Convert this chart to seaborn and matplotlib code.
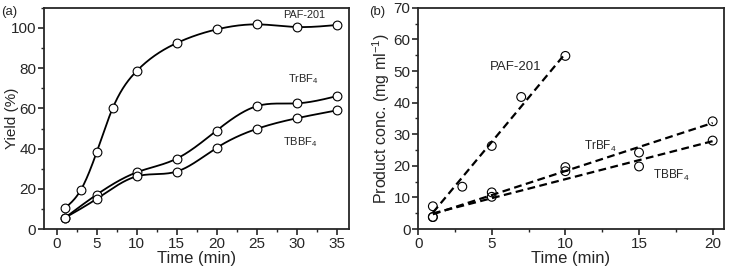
import numpy as np
import pandas as pd
import matplotlib
matplotlib.use('Agg')
import matplotlib.pyplot as plt
from matplotlib.ticker import MultipleLocator
import seaborn as sns

# --- data ---
# (a) yield vs time
t_paf_a = [1, 3, 5, 7, 10, 15, 20, 25, 30, 35]
y_paf_a = [10.3, 19.3, 38.2, 60.1, 78.6, 92.5, 99.3, 101.8, 100.5, 101.5]
t_tr_a = [1, 5, 10, 15, 20, 25, 30, 35]
y_tr_a = [5.5, 17.1, 28.2, 35.0, 49.0, 61.1, 62.5, 66.1]
t_tb_a = [1, 5, 10, 15, 20, 25, 30, 35]
y_tb_a = [5.5, 15.0, 26.2, 28.6, 40.4, 49.8, 55.1, 59.0]

# (b) product concentration vs time
t_paf_b = [1, 3, 5, 7, 10]
c_paf_b = [7.2, 13.4, 26.3, 41.8, 54.8]
t_tr_b = [1, 5, 10, 15, 20]
c_tr_b = [3.8, 11.6, 19.6, 24.2, 34.1]
t_tb_b = [1, 5, 10, 15, 20]
c_tb_b = [3.8, 10.2, 18.3, 19.8, 28.0]


def natural_spline(x, y, n=300):
    # plain natural cubic spline, just for drawing the smooth curves
    x = np.asarray(x, float)
    y = np.asarray(y, float)
    k = len(x)
    h = np.diff(x)
    A = np.zeros((k, k))
    r = np.zeros(k)
    A[0, 0] = A[-1, -1] = 1
    for i in range(1, k - 1):
        A[i, i - 1] = h[i - 1]
        A[i, i] = 2 * (h[i - 1] + h[i])
        A[i, i + 1] = h[i]
        r[i] = 3 * ((y[i + 1] - y[i]) / h[i] - (y[i] - y[i - 1]) / h[i - 1])
    c = np.linalg.solve(A, r)
    xs = np.linspace(x[0], x[-1], n)
    idx = np.clip(np.searchsorted(x, xs) - 1, 0, k - 2)
    dx = xs - x[idx]
    b = (y[1:] - y[:-1]) / h - h * (2 * c[:-1] + c[1:]) / 3
    d = (c[1:] - c[:-1]) / (3 * h)
    ys = y[idx] + b[idx] * dx + c[idx] * dx ** 2 + d[idx] * dx ** 3
    return xs, ys


sns.set_style('ticks')
plt.rcParams['font.family'] = ['Liberation Sans', 'DejaVu Sans']
plt.rcParams['mathtext.default'] = 'regular'
plt.rcParams['axes.linewidth'] = 1.3

fig = plt.figure(figsize=(7.31, 2.72), dpi=100)
ax1 = fig.add_axes([0.060, 0.158, 0.417, 0.813])
ax2 = fig.add_axes([0.572, 0.158, 0.418, 0.813])

mk = dict(marker='o', s=40, edgecolor='black', linewidth=0.8, zorder=3)

# --- (a) Yield ---
for t, y in [(t_paf_a, y_paf_a), (t_tr_a, y_tr_a), (t_tb_a, y_tb_a)]:
    xs, ys = natural_spline(t, y)
    sns.lineplot(x=xs, y=ys, ax=ax1, color='black', lw=1.3, sort=False,
                 estimator=None)
    sns.scatterplot(x=t, y=y, ax=ax1, facecolor='white', **mk)

ax1.set_xlim(-1.6, 36.5)
ax1.set_ylim(0, 110)
ax1.xaxis.set_major_locator(MultipleLocator(5))
ax1.xaxis.set_minor_locator(MultipleLocator(2.5))
ax1.yaxis.set_major_locator(MultipleLocator(20))
ax1.yaxis.set_minor_locator(MultipleLocator(10))
ax1.set_xlabel('Time (min)', fontsize=12, labelpad=0)
ax1.set_ylabel('Yield (%)', fontsize=11)
ax1.yaxis.set_label_coords(-0.082, 0.5)
ax1.text(31, 106.5, 'PAF-201', fontsize=7.8, ha='center', va='center')
ax1.text(30.9, 74.5, 'TrBF$_4$', fontsize=8, ha='center', va='center')
ax1.text(30.4, 43, 'TBBF$_4$', fontsize=8, ha='center', va='center')

# --- (b) Product conc. with linear fits ---
for t, c in [(t_paf_b, c_paf_b), (t_tr_b, c_tr_b), (t_tb_b, c_tb_b)]:
    df = pd.DataFrame({'t': t, 'c': c})
    sns.regplot(data=df, x='t', y='c', ax=ax2, scatter=False, ci=None,
                truncate=True,
                line_kws=dict(color='black', lw=1.6, dashes=(3.5, 2)))
    sns.scatterplot(x=t, y=c, ax=ax2, facecolor='none', **mk)

ax2.set_xlim(0, 20.75)
ax2.set_ylim(0, 70)
ax2.xaxis.set_major_locator(MultipleLocator(5))
ax2.xaxis.set_minor_locator(MultipleLocator(2.5))
ax2.yaxis.set_major_locator(MultipleLocator(10))
ax2.yaxis.set_minor_locator(MultipleLocator(5))
ax2.set_xlabel('Time (min)', fontsize=12, labelpad=0)
ax2.set_ylabel('Product conc. (mg ml$^{-1}$)', fontsize=11.5)
ax2.yaxis.set_label_coords(-0.085, 0.5)
ax2.text(6.6, 51.3, 'PAF-201', fontsize=9.5, ha='center', va='center')
ax2.text(12.4, 26, 'TrBF$_4$', fontsize=8.5, ha='center', va='center')
ax2.text(17.2, 17.1, 'TBBF$_4$', fontsize=8.5, ha='center', va='center')

for ax in (ax1, ax2):
    for s in ax.spines.values():
        s.set_visible(True)
    ax.tick_params(which='major', direction='out', length=4, width=1.2,
                   labelsize=11, pad=1.5)
    ax.tick_params(which='minor', direction='out', length=2.5, width=1.0)
    ax.tick_params(top=False, right=False)

fig.text(0.002, 0.955, '(a)', fontsize=9.5, ha='left', va='center')
fig.text(0.505, 0.955, '(b)', fontsize=9.5, ha='left', va='center')

fig.savefig('out.png', dpi=100)
